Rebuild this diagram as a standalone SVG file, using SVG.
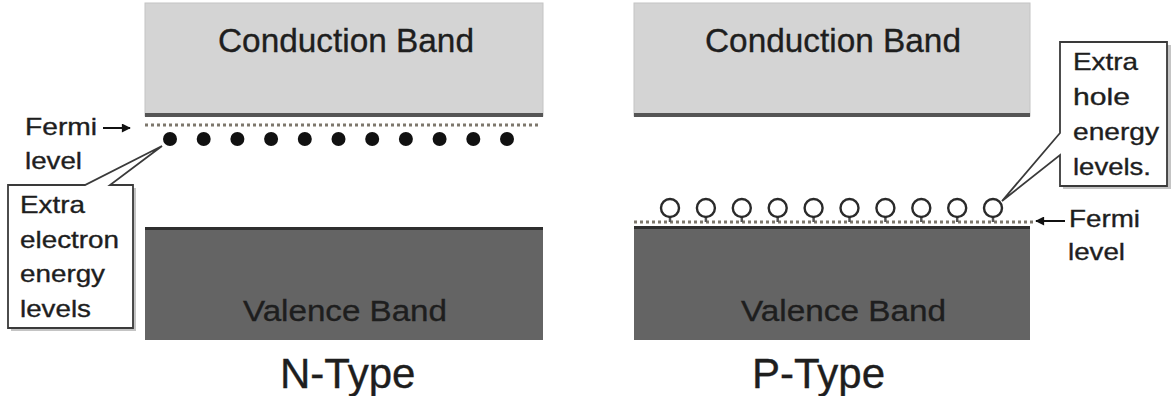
<svg xmlns="http://www.w3.org/2000/svg" width="1171" height="396" viewBox="0 0 1171 396">
<style>
.cb{fill:#d4d4d4;stroke:#c4c4c4;stroke-width:1}
.cbline{stroke:#555;stroke-width:4}
.vb{fill:#646464}
.vbline{stroke:#2e2e2e;stroke-width:3}
.t{font-family:"Liberation Sans",Arial,sans-serif;fill:#1e1e1e;stroke:#1e1e1e;stroke-width:0.35}
.fermi{stroke:#7d776c;stroke-width:3;stroke-dasharray:3 3;fill:none}
.dot{fill:#111}
.hole{fill:#fff;stroke:#2a2a2a;stroke-width:2.4}
.stem{stroke:#555;stroke-width:2.5}
.callout{fill:#fff;stroke:#3a3a3a;stroke-width:1.8;stroke-linejoin:miter}
.shadow{fill:#c4c4c4}
.arr{stroke:#111;stroke-width:2;fill:none}
</style>
<defs>
<marker id="ah" viewBox="0 0 10 10" refX="9" refY="5" markerWidth="16" markerHeight="9" markerUnits="userSpaceOnUse" orient="auto">
<path d="M0,0 L10,5 L0,10 z" fill="#111"/>
</marker>
</defs>
<rect width="1171" height="396" fill="#fff"/>

<g id="n-conduction">
<rect class="cb" x="145" y="3" width="398" height="113"/>
<line class="cbline" x1="145" y1="115" x2="543" y2="115"/>
<text class="t" x="218" y="52" font-size="34" textLength="256" lengthAdjust="spacingAndGlyphs">Conduction Band</text>
</g>
<g id="n-valence">
<rect class="vb" x="145" y="227" width="398" height="113"/>
<line class="vbline" x1="145" y1="228.5" x2="543" y2="228.5"/>
<text class="t" x="243" y="321" font-size="29" textLength="204" lengthAdjust="spacingAndGlyphs">Valence Band</text>
</g>
<g id="n-fermi-line">
<line class="fermi" x1="145" y1="125" x2="540" y2="125"/>
</g>
<g id="n-electrons">
<circle class="dot" cx="170" cy="139" r="7"/>
<circle class="dot" cx="203.7" cy="139" r="7"/>
<circle class="dot" cx="237.4" cy="139" r="7"/>
<circle class="dot" cx="271.1" cy="139" r="7"/>
<circle class="dot" cx="304.8" cy="139" r="7"/>
<circle class="dot" cx="338.5" cy="139" r="7"/>
<circle class="dot" cx="372.2" cy="139" r="7"/>
<circle class="dot" cx="405.9" cy="139" r="7"/>
<circle class="dot" cx="439.6" cy="139" r="7"/>
<circle class="dot" cx="473.3" cy="139" r="7"/>
<circle class="dot" cx="507" cy="139" r="7"/>
</g>
<g id="n-fermi-label">
<text class="t" x="25" y="135" font-size="24" textLength="72" lengthAdjust="spacingAndGlyphs">Fermi</text>
<text class="t" x="25" y="169" font-size="24" textLength="57" lengthAdjust="spacingAndGlyphs">level</text>
</g>
<g id="n-callout">
<path class="shadow" d="M113,188 H136 V331 H11 V188 Z"/>
<path class="callout" d="M110,185 H133 V328 H8 V185 H85 L162,146 Z"/>
<text class="t" x="20" y="213" font-size="24" textLength="65" lengthAdjust="spacingAndGlyphs">Extra</text>
<text class="t" x="20" y="248" font-size="24" textLength="99" lengthAdjust="spacingAndGlyphs">electron</text>
<text class="t" x="20" y="282" font-size="24" textLength="85" lengthAdjust="spacingAndGlyphs">energy</text>
<text class="t" x="20" y="317" font-size="24" textLength="71" lengthAdjust="spacingAndGlyphs">levels</text>
</g>
<g id="n-title">
<text class="t" x="280" y="388" font-size="42">N-Type</text>
</g>

<g id="p-conduction">
<rect class="cb" x="634" y="3" width="396" height="113"/>
<line class="cbline" x1="634" y1="115" x2="1030" y2="115"/>
<text class="t" x="705" y="52" font-size="34" textLength="256" lengthAdjust="spacingAndGlyphs">Conduction Band</text>
</g>
<g id="p-valence">
<rect class="vb" x="634" y="226" width="396" height="114"/>
<line class="vbline" x1="634" y1="227.5" x2="1030" y2="227.5"/>
<text class="t" x="741" y="321" font-size="29" textLength="205" lengthAdjust="spacingAndGlyphs">Valence Band</text>
</g>
<g id="p-fermi-line">
<line class="fermi" x1="634" y1="222" x2="1035" y2="222"/>
</g>
<g id="p-holes">
<g>
<line class="stem" x1="670" y1="216" x2="670" y2="222"/>
<line class="stem" x1="705.9" y1="216" x2="705.9" y2="222"/>
<line class="stem" x1="741.8" y1="216" x2="741.8" y2="222"/>
<line class="stem" x1="777.7" y1="216" x2="777.7" y2="222"/>
<line class="stem" x1="813.6" y1="216" x2="813.6" y2="222"/>
<line class="stem" x1="849.5" y1="216" x2="849.5" y2="222"/>
<line class="stem" x1="885.4" y1="216" x2="885.4" y2="222"/>
<line class="stem" x1="921.3" y1="216" x2="921.3" y2="222"/>
<line class="stem" x1="957.2" y1="216" x2="957.2" y2="222"/>
<line class="stem" x1="993" y1="216" x2="993" y2="222"/>
</g>
<circle class="hole" cx="670" cy="208" r="9"/>
<circle class="hole" cx="705.9" cy="208" r="9"/>
<circle class="hole" cx="741.8" cy="208" r="9"/>
<circle class="hole" cx="777.7" cy="208" r="9"/>
<circle class="hole" cx="813.6" cy="208" r="9"/>
<circle class="hole" cx="849.5" cy="208" r="9"/>
<circle class="hole" cx="885.4" cy="208" r="9"/>
<circle class="hole" cx="921.3" cy="208" r="9"/>
<circle class="hole" cx="957.2" cy="208" r="9"/>
<circle class="hole" cx="993" cy="208" r="9"/>
</g>
<g id="p-fermi-label">
<text class="t" x="1069" y="227" font-size="24" textLength="71" lengthAdjust="spacingAndGlyphs">Fermi</text>
<text class="t" x="1068" y="260" font-size="24" textLength="57" lengthAdjust="spacingAndGlyphs">level</text>
</g>
<g id="p-callout">
<path class="shadow" d="M1063,45 H1171 V189 H1063 Z"/>
<path class="callout" d="M1060,133 V42 H1167 V186 H1060 V155 L1002,201 Z"/>
<text class="t" x="1073" y="70" font-size="24" textLength="65" lengthAdjust="spacingAndGlyphs">Extra</text>
<text class="t" x="1073" y="105" font-size="24" textLength="57" lengthAdjust="spacingAndGlyphs">hole</text>
<text class="t" x="1073" y="140" font-size="24" textLength="86" lengthAdjust="spacingAndGlyphs">energy</text>
<text class="t" x="1073" y="175" font-size="24" textLength="78" lengthAdjust="spacingAndGlyphs">levels.</text>
</g>
<g id="p-title">
<text class="t" x="752" y="388" font-size="42">P-Type</text>
</g>

<g id="connectors">
<line class="arr" x1="103" y1="128" x2="130" y2="128" marker-end="url(#ah)"/>
<line class="arr" x1="1065" y1="221" x2="1036" y2="221" marker-end="url(#ah)"/>
</g>
</svg>
